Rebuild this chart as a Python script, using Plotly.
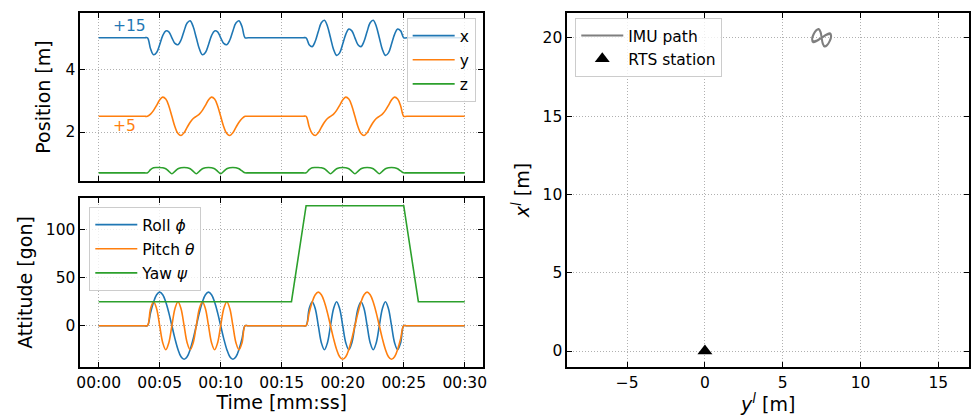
import plotly.graph_objects as go

# ---------------------------------------------------------------------------
# Data
# ---------------------------------------------------------------------------
# Sample times [s] of the two figure-eight manoeuvres
T_SEG1 = [4.0, 4.25, 4.5, 4.75, 5.0, 5.25, 5.5, 5.75, 6.0, 6.25, 6.5, 6.75,
          7.0, 7.25, 7.5, 7.75, 8.0, 8.25, 8.5, 8.75, 9.0, 9.25, 9.5, 9.75,
          10.0, 10.25, 10.5, 10.75, 11.0, 11.25, 11.5, 11.75, 12.0]
T_SEG2 = [17.0, 17.25, 17.5, 17.75, 18.0, 18.25, 18.5, 18.75, 19.0, 19.25,
          19.5, 19.75, 20.0, 20.25, 20.5, 20.75, 21.0, 21.25, 21.5, 21.75,
          22.0, 22.25, 22.5, 22.75, 23.0, 23.25, 23.5, 23.75, 24.0, 24.25,
          24.5, 24.75, 25.0]
# Stationary phases before, between and after the manoeuvres
T_REST_A = [0.0, 3.75]
T_REST_B = [12.25, 16.75]
T_REST_C = [25.25, 30.0]

# Position (x shown with -15 m, y with -5 m offset)
OFFSET_X = 15
OFFSET_Y = 5
X_REST = 5.00
Y_REST = 2.50
Z_REST = 0.70
X_SEG1 = [5.00, 4.65, 4.46, 4.53, 4.78, 5.07, 5.22, 5.19, 5.00, 4.82, 4.78,
          4.93, 5.22, 5.47, 5.54, 5.35, 5.00, 4.65, 4.46, 4.53, 4.78, 5.07,
          5.22, 5.19, 5.00, 4.82, 4.78, 4.93, 5.22, 5.47, 5.54, 5.35, 5.00]
Y_SEG1 = [2.50, 2.57, 2.69, 2.85, 3.02, 3.11, 3.05, 2.83, 2.50, 2.17, 1.95,
          1.89, 1.98, 2.15, 2.31, 2.43, 2.50, 2.57, 2.69, 2.85, 3.02, 3.11,
          3.05, 2.83, 2.50, 2.17, 1.95, 1.89, 1.98, 2.15, 2.31, 2.43, 2.50]
Z_SEG1 = [0.70, 0.80, 0.86, 0.87, 0.87, 0.86, 0.83, 0.75, 0.67, 0.75, 0.83,
          0.86, 0.87, 0.86, 0.83, 0.75, 0.67, 0.75, 0.83, 0.86, 0.87, 0.86,
          0.83, 0.75, 0.67, 0.75, 0.83, 0.86, 0.87, 0.86, 0.83, 0.76, 0.70]
X_SEG2 = [5.00, 4.78, 4.72, 4.89, 5.20, 5.48, 5.56, 5.37, 5.00, 4.63, 4.44,
          4.52, 4.80, 5.11, 5.28, 5.22, 5.00, 4.78, 4.72, 4.89, 5.20, 5.48,
          5.56, 5.37, 5.00, 4.63, 4.44, 4.52, 4.80, 5.11, 5.28, 5.22, 5.00]
Y_SEG2 = [2.50, 2.17, 1.95, 1.89, 1.98, 2.15, 2.31, 2.43, 2.50, 2.57, 2.69,
          2.85, 3.02, 3.11, 3.05, 2.83, 2.50, 2.17, 1.95, 1.89, 1.98, 2.15,
          2.31, 2.43, 2.50, 2.57, 2.69, 2.85, 3.02, 3.11, 3.05, 2.83, 2.50]
Z_SEG2 = [0.70, 0.80, 0.86, 0.87, 0.87, 0.86, 0.83, 0.75, 0.67, 0.75, 0.83,
          0.86, 0.87, 0.86, 0.83, 0.75, 0.67, 0.75, 0.83, 0.86, 0.87, 0.86,
          0.83, 0.75, 0.67, 0.75, 0.83, 0.86, 0.87, 0.86, 0.83, 0.76, 0.70]

# Attitude [gon]
ROLL_SEG1 = [0, 13.4, 24.7, 32.3, 35, 32.3, 24.7, 13.4, 0, -13.4, -24.7,
             -32.3, -35, -32.3, -24.7, -13.4, 0, 13.4, 24.7, 32.3, 35, 32.3,
             24.7, 13.4, 0, -13.4, -24.7, -32.3, -35, -32.3, -24.7, -13.4, 0]
PITCH_SEG1 = [0, 17.7, 25, 17.7, 0, -17.7, -25, -17.7, 0, 17.7, 25, 17.7,
              0, -17.7, -25, -17.7, 0, 17.7, 25, 17.7, 0, -17.7, -25, -17.7,
              0, 17.7, 25, 17.7, 0, -17.7, -25, -17.7, 0]
ROLL_SEG2 = [0, 17.7, 25, 17.7, 0, -17.7, -25, -17.7, 0, 17.7, 25, 17.7,
             0, -17.7, -25, -17.7, 0, 17.7, 25, 17.7, 0, -17.7, -25, -17.7,
             0, 17.7, 25, 17.7, 0, -17.7, -25, -17.7, 0]
PITCH_SEG2 = [0, 13.4, 24.7, 32.3, 35, 32.3, 24.7, 13.4, 0, -13.4, -24.7,
              -32.3, -35, -32.3, -24.7, -13.4, 0, 13.4, 24.7, 32.3, 35, 32.3,
              24.7, 13.4, 0, -13.4, -24.7, -32.3, -35, -32.3, -24.7, -13.4, 0]
YAW_T = [0.0, 15.8, 17.0, 25.0, 26.2, 30.0]
YAW = [25, 25, 125, 125, 25, 25]

# Total station location in the local frame
RTS_Y = [0.0]
RTS_X = [0.0]

TIME_TICKS = [0, 5, 10, 15, 20, 25, 30]
TIME_LABELS = ["00:00", "00:05", "00:10", "00:15", "00:20", "00:25", "00:30"]


def full_series(rest, seg1, seg2):
    return [rest, rest] + seg1 + [rest, rest] + seg2 + [rest, rest]


T_ALL = T_REST_A + T_SEG1 + T_REST_B + T_SEG2 + T_REST_C
pos_x = full_series(X_REST, X_SEG1, X_SEG2)
pos_y = full_series(Y_REST, Y_SEG1, Y_SEG2)
pos_z = full_series(Z_REST, Z_SEG1, Z_SEG2)
roll = full_series(0, ROLL_SEG1, ROLL_SEG2)
pitch = full_series(0, PITCH_SEG1, PITCH_SEG2)

# Local-frame path: horizontal y^l, vertical x^l
path_x = [v + OFFSET_X for v in pos_x]
path_y = [v + OFFSET_Y for v in pos_y]

# ---------------------------------------------------------------------------
# Styling
# ---------------------------------------------------------------------------
BLUE, ORANGE, GREEN = "#1f77b4", "#ff7f0e", "#2ca02c"
FONT = "DejaVu Sans"
W, H = 975, 419
TICK_FS = 15.5
TITLE_FS = 19
LEGEND_FS = 15.5


def px_x(a, b):
    return [a / W, b / W]


def px_y(top, bottom):
    return [1 - bottom / H, 1 - top / H]


axis_common = dict(
    showline=True, linecolor="black", linewidth=1.8, mirror="ticks",
    ticks="inside", ticklen=5, tickwidth=1.3, tickcolor="black",
    showgrid=True, gridcolor="#b0b0b0", gridwidth=0.9, griddash="1px,2px",
    zeroline=False, tickfont=dict(size=TICK_FS, family=FONT, color="black"),
)

fig = go.Figure()

lw = 1.6
fig.add_trace(go.Scatter(x=T_ALL, y=pos_x, mode="lines", name="x",
                         line=dict(color=BLUE, width=lw, shape="spline"),
                         xaxis="x", yaxis="y", legend="legend", legendgroup="a"))
fig.add_trace(go.Scatter(x=T_ALL, y=pos_y, mode="lines", name="y",
                         line=dict(color=ORANGE, width=lw, shape="spline"),
                         xaxis="x", yaxis="y", legend="legend", legendgroup="b"))
fig.add_trace(go.Scatter(x=T_ALL, y=pos_z, mode="lines", name="z",
                         line=dict(color=GREEN, width=lw, shape="spline"),
                         xaxis="x", yaxis="y", legend="legend", legendgroup="c"))

fig.add_trace(go.Scatter(x=T_ALL, y=roll, mode="lines", name="Roll <i>ϕ</i>",
                         line=dict(color=BLUE, width=lw, shape="spline"),
                         xaxis="x2", yaxis="y2", legend="legend2", legendgroup="d"))
fig.add_trace(go.Scatter(x=T_ALL, y=pitch, mode="lines", name="Pitch <i>θ</i>",
                         line=dict(color=ORANGE, width=lw, shape="spline"),
                         xaxis="x2", yaxis="y2", legend="legend2", legendgroup="e"))
fig.add_trace(go.Scatter(x=YAW_T, y=YAW, mode="lines", name="Yaw <i>ψ</i>",
                         line=dict(color=GREEN, width=lw),
                         xaxis="x2", yaxis="y2", legend="legend2", legendgroup="f"))

fig.add_trace(go.Scatter(x=path_y, y=path_x, mode="lines", name="IMU path",
                         line=dict(color="#7f7f7f", width=2, shape="spline"),
                         xaxis="x3", yaxis="y3", legend="legend3", legendgroup="g"))
fig.add_trace(go.Scatter(x=RTS_Y, y=RTS_X, mode="markers", name="RTS station",
                         marker=dict(symbol="triangle-up", size=13, color="black"),
                         xaxis="x3", yaxis="y3", legend="legend3", legendgroup="h"))

legend_common = dict(
    bgcolor="rgba(255,255,255,0.8)", bordercolor="#cccccc", borderwidth=1,
    font=dict(size=LEGEND_FS, family=FONT, color="black"), tracegroupgap=1,
    xanchor="left", yanchor="top", itemwidth=42,
)

fig.update_layout(
    width=W, height=H, margin=dict(l=0, r=0, t=0, b=0),
    paper_bgcolor="white", plot_bgcolor="white",
    font=dict(family=FONT, size=TICK_FS, color="black"),
    showlegend=True,
    xaxis=dict(axis_common, domain=px_x(77, 483), anchor="y", range=[-1.5, 31.5],
               tickvals=TIME_TICKS, showticklabels=False),
    yaxis=dict(axis_common, domain=px_y(13, 181), anchor="x", range=[0.44, 5.79],
               tickvals=[2, 4],
               title=dict(text="Position [m]", font=dict(size=TITLE_FS), standoff=10)),
    xaxis2=dict(axis_common, domain=px_x(77, 483), anchor="y2", range=[-1.5, 31.5],
                tickvals=TIME_TICKS, ticktext=TIME_LABELS,
                title=dict(text="Time [mm:ss]", font=dict(size=TITLE_FS), standoff=4)),
    yaxis2=dict(axis_common, domain=px_y(198, 367), anchor="x2", range=[-43, 133],
                tickvals=[0, 50, 100],
                title=dict(text="Attitude [gon]", font=dict(size=TITLE_FS), standoff=8)),
    xaxis3=dict(axis_common, domain=px_x(568, 973), anchor="y3", range=[-8.84, 16.97],
                tickvals=[-5, 0, 5, 10, 15],
                title=dict(text="<i>y</i><sup><i>l</i></sup> [m]",
                           font=dict(size=TITLE_FS), standoff=4)),
    yaxis3=dict(axis_common, domain=px_y(13, 367), anchor="x3", range=[-1.02, 21.58],
                tickvals=[0, 5, 10, 15, 20],
                title=dict(text="<i>x</i><sup><i>l</i></sup> [m]",
                           font=dict(size=TITLE_FS), standoff=8)),
    legend=dict(legend_common, x=406 / W, y=1 - 18 / H),
    legend2=dict(legend_common, x=86 / W, y=1 - 207 / H),
    legend3=dict(legend_common, x=576 / W, y=1 - 18 / H, tracegroupgap=0),
    annotations=[
        dict(text="+15", x=1.0, y=5.36, xref="x", yref="y", xanchor="left",
             yanchor="middle", showarrow=False,
             font=dict(size=LEGEND_FS, color=BLUE, family=FONT)),
        dict(text="+5", x=1.0, y=2.19, xref="x", yref="y", xanchor="left",
             yanchor="middle", showarrow=False,
             font=dict(size=LEGEND_FS, color=ORANGE, family=FONT)),
    ],
)

fig.write_html("out.html")
